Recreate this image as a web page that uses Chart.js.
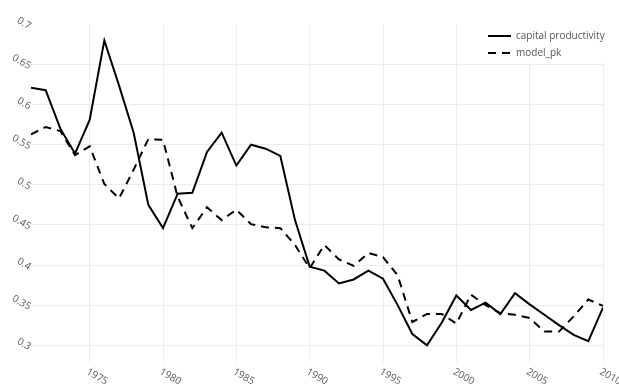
<!DOCTYPE html>
<html>
<head>
<meta charset="utf-8">
<script src="https://cdn.jsdelivr.net/npm/chart.js@4.4.0/dist/chart.umd.min.js"></script>
<style>
  html, body { margin: 0; padding: 0; background: #fff; }
  canvas { display: block; }
</style>
</head>
<body>
<canvas id="line-chart" width="619" height="386"></canvas>
<script>
var years = [1971, 1972, 1973, 1974, 1975, 1976, 1977, 1978, 1979, 1980,
  1981, 1982, 1983, 1984, 1985, 1986, 1987, 1988, 1989, 1990,
  1991, 1992, 1993, 1994, 1995, 1996, 1997, 1998, 1999, 2000,
  2001, 2002, 2003, 2004, 2005, 2006, 2007, 2008, 2009, 2010];

var capitalProductivity = [0.621, 0.618, 0.570, 0.539, 0.581, 0.680, 0.624, 0.565, 0.475, 0.446,
  0.489, 0.490, 0.541, 0.565, 0.524, 0.550, 0.545, 0.536, 0.456, 0.398,
  0.393, 0.377, 0.382, 0.393, 0.383, 0.350, 0.314, 0.300, 0.328, 0.362,
  0.344, 0.353, 0.339, 0.365, 0.351, 0.338, 0.325, 0.313, 0.305, 0.347];

var modelPk = [0.563, 0.572, 0.567, 0.537, 0.548, 0.501, 0.483, 0.519, 0.557, 0.556,
  0.485, 0.446, 0.472, 0.456, 0.469, 0.451, 0.447, 0.446, 0.425, 0.396,
  0.425, 0.407, 0.399, 0.415, 0.410, 0.387, 0.329, 0.339, 0.339, 0.327,
  0.363, 0.350, 0.340, 0.338, 0.334, 0.317, 0.317, 0.336, 0.357, 0.349];

var xTicks = [1975, 1980, 1985, 1990, 1995, 2000, 2005, 2010];
var yTicks = [0.3, 0.35, 0.4, 0.45, 0.5, 0.55, 0.6, 0.65, 0.7];
var seriesNames = ["capital productivity", "model_pk"];

var tickFont = "10px 'Open Sans'";
var tickColor = "#555";

function points(vals) {
  var out = [];
  for (var i = 0; i < years.length; i++) {
    out.push({ x: years[i], y: vals[i] });
  }
  return out;
}

// rotated tick labels and the legend box, drawn on top of the chart
var labelsPlugin = {
  id: 'labels',
  afterDraw: function (chart) {
    var ctx = chart.ctx;
    var xs = chart.scales.x;
    var ys = chart.scales.y;
    var rot = 30 * Math.PI / 180;
    ctx.save();
    ctx.font = tickFont;
    ctx.fillStyle = tickColor;
    ctx.textBaseline = 'middle';

    ctx.textAlign = 'right';
    for (var i = 0; i < yTicks.length; i++) {
      var py = ys.getPixelForValue(yTicks[i]);
      ctx.save();
      ctx.translate(ys.right - 1, py + 2.5);
      ctx.rotate(rot);
      ctx.fillText(String(yTicks[i]), 0, 0);
      ctx.restore();
    }

    ctx.textAlign = 'left';
    for (var j = 0; j < xTicks.length; j++) {
      var px = xs.getPixelForValue(xTicks[j]);
      ctx.save();
      ctx.translate(px - 2.5, xs.top + 9);
      ctx.rotate(rot);
      ctx.fillText(String(xTicks[j]), 0, 0);
      ctx.restore();
    }

    // legend
    var lx = 482, ly = chart.chartArea.top;
    ctx.fillStyle = '#fff';
    ctx.fillRect(lx, ly, chart.chartArea.right - lx + 6, 39);
    ctx.strokeStyle = '#000';
    ctx.lineWidth = 2;
    for (var k = 0; k < seriesNames.length; k++) {
      var yy = 36 + k * 17;
      ctx.setLineDash(k === 0 ? [] : [8, 6]);
      ctx.beginPath();
      ctx.moveTo(488, yy);
      ctx.lineTo(511, yy);
      ctx.stroke();
      ctx.fillStyle = tickColor;
      ctx.fillText(seriesNames[k], 516, yy);
    }
    ctx.restore();
  }
};

window.onload = function () {
  var lineChart = new Chart(document.getElementById("line-chart"), {
    type: 'line',
    data: {
      datasets: [{
        label: seriesNames[0],
        data: points(capitalProductivity),
        borderColor: "#000",
        borderWidth: 2,
        pointRadius: 0,
        fill: false
      }, {
        label: seriesNames[1],
        data: points(modelPk),
        borderColor: "#000",
        borderWidth: 2,
        borderDash: [8, 6],
        pointRadius: 0,
        fill: false
      }]
    },
    options: {
      responsive: false,
      animation: false,
      devicePixelRatio: 1,
      layout: { padding: { top: 24, right: 16, left: 0, bottom: 0 } },
      plugins: {
        legend: { display: false },
        tooltip: { enabled: false }
      },
      scales: {
        x: {
          type: 'linear',
          min: 1971,
          max: 2010,
          afterBuildTicks: function (scale) {
            scale.ticks = xTicks.map(function (v) { return { value: v }; });
          },
          afterFit: function (scale) { scale.height = 24; },
          ticks: { display: false },
          border: { display: false },
          grid: { color: '#ebebeb', lineWidth: 1, drawTicks: false }
        },
        y: {
          min: 0.2791,
          max: 0.7005,
          afterBuildTicks: function (scale) {
            scale.ticks = yTicks.map(function (v) { return { value: v }; });
          },
          afterFit: function (scale) { scale.width = 31; },
          ticks: { display: false },
          border: { display: false },
          grid: {
            color: function (c) { return c.tick && c.tick.value >= 0.7 ? 'rgba(0,0,0,0)' : '#ebebeb'; },
            lineWidth: 1,
            drawTicks: false
          }
        }
      }
    },
    plugins: [labelsPlugin]
  });
};
</script>
</body>
</html>
